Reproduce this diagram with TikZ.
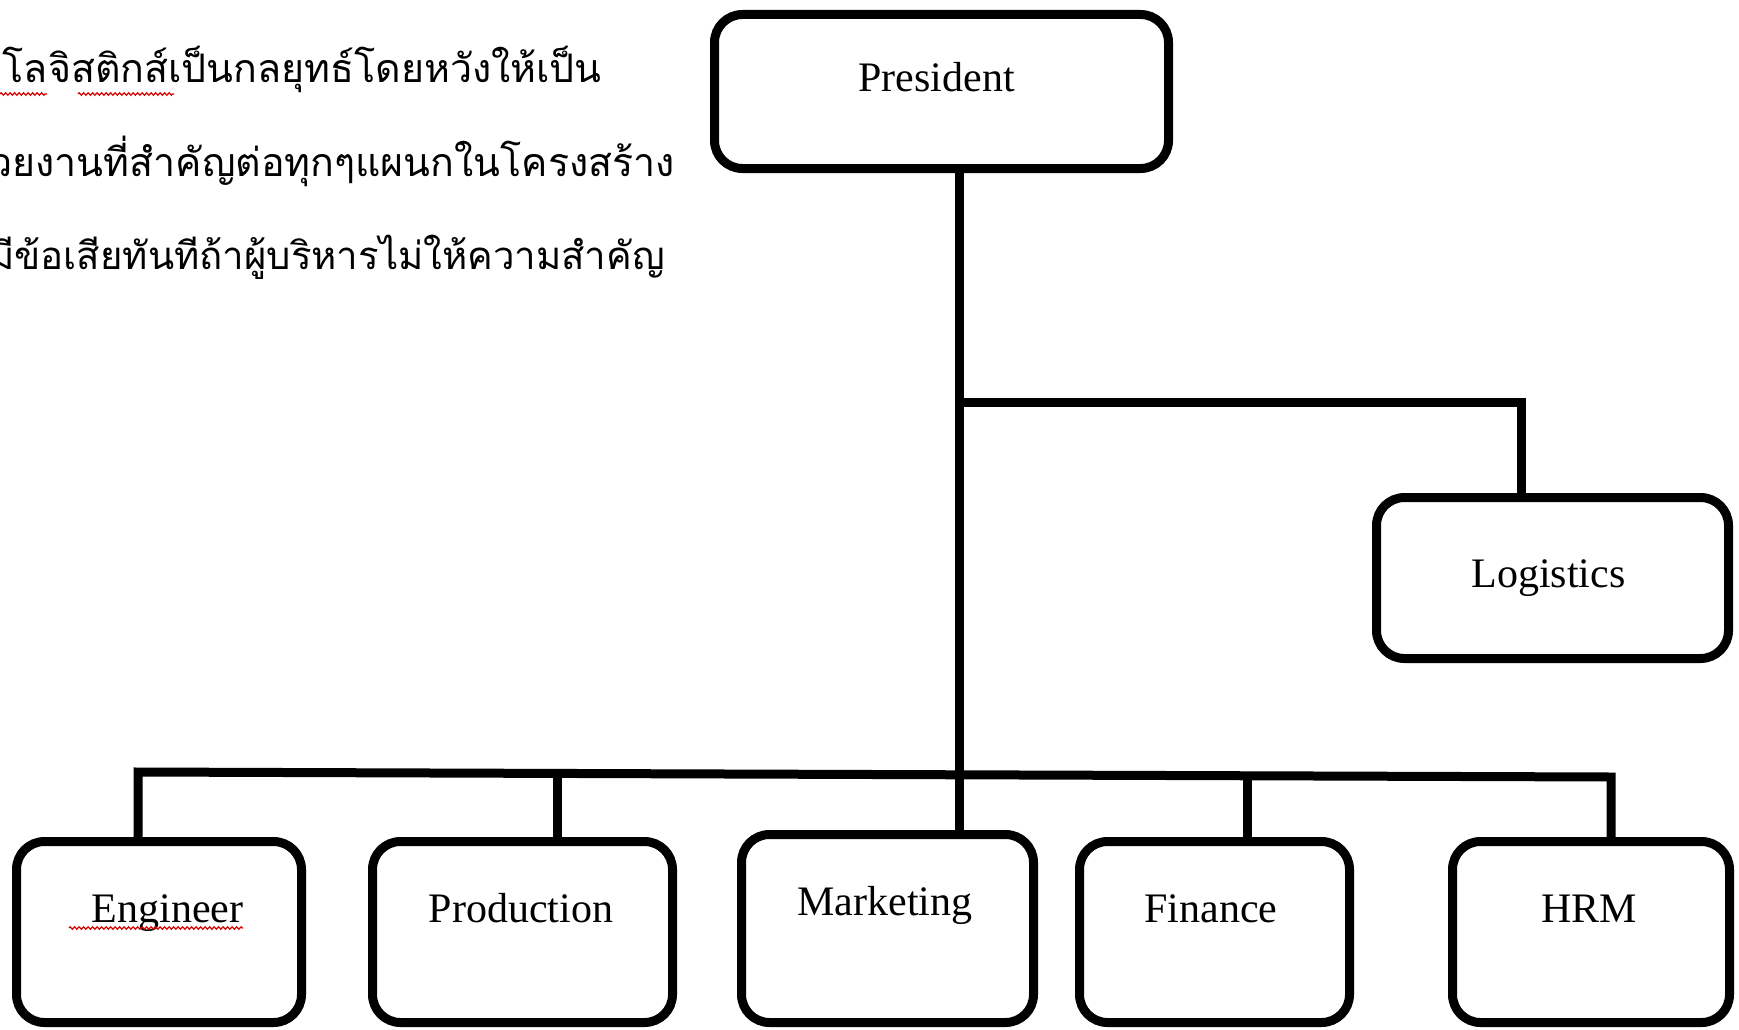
\documentclass[tikz,border=0pt]{standalone}
\usepackage{fontspec}
\setmainfont{Liberation Serif}
\newfontfamily\thaifont[Script=Thai]{Loma}
\usetikzlibrary{decorations.pathmorphing}
\newlength\thw
\newcommand{\boxlbl}[3]{\raisebox{#2}[0pt][0pt]{\makebox[0pt]{\hspace*{#1}#3}}}
\tikzset{
  box/.style={draw=black, line width=9pt, rounded corners=28pt, inner sep=0pt, outer sep=0pt,
    font=\fontsize{42}{50}\selectfont},
  conn/.style={draw=black, line width=9pt},
  thai/.style={anchor=base east, inner sep=0pt},
  squiggle/.style={draw=red!85!black, line width=1.3pt, decorate,
    decoration={zigzag, segment length=4.5pt, amplitude=1.2pt}}
}
\begin{document}
\settowidth\thw{\thaifont\fontsize{40}{48}\selectfont โลจิสติกส์เป็นกลยุทธ์โดยหวังให้เป็น}%
\pgfmathsetmacro\thsize{599/\thw*40}%
\pgfmathsetmacro\thsizeb{0.975*\thsize}%
\begin{tikzpicture}[x=1pt,y=-1pt]
\useasboundingbox (0,0) rectangle (1739,1030);
\fill[white] (0,0) rectangle (1739,1030);
\tikzset{thai/.append style={font=\thaifont\fontsize{\thsize}{\thsize}\selectfont}}
% Thai paragraph
\node[thai] (t1) at (602,83) {โลจิสติกส์เป็นกลยุทธ์โดยหวังให้เป็น};
\node[thai] (t2) at (675,176) {วยงานที่สำคัญต่อทุกๆแผนกในโครงสร้าง};
\node[thai, font=\thaifont\fontsize{\thsizeb}{\thsizeb}\selectfont] (t3) at (665,269) {มีข้อเสียทันทีถ้าผู้บริหารไม่ให้ความสำคัญ};
\draw[squiggle] (0,94) -- (47,94);
\draw[squiggle] (78,94) -- (174,94);
% boxes
\node[box, minimum width=454pt, minimum height=154pt] (pres) at (941.5,91.5) {\boxlbl{-10pt}{-0.5pt}{President}};
\node[box, minimum width=352pt, minimum height=161pt] (log) at (1552.5,578) {\boxlbl{-8pt}{-9pt}{Logistics}};
\node[box, minimum width=285pt, minimum height=181pt] (eng) at (159,932) {\boxlbl{17pt}{10pt}{Engineer}};
\node[box, minimum width=300pt, minimum height=181pt] (prod) at (522.5,932) {\boxlbl{-3pt}{10pt}{Production}};
\node[box, minimum width=292pt, minimum height=188pt] (mkt) at (887.5,928.5) {\boxlbl{-5pt}{13.5pt}{Marketing}};
\node[box, minimum width=270pt, minimum height=181pt] (fin) at (1214.5,932) {\boxlbl{-7pt}{10pt}{Finance}};
\node[box, minimum width=277pt, minimum height=181pt] (hrm) at (1591,932) {\boxlbl{-4pt}{10pt}{HRM}};
\draw[squiggle] (69,928) -- (243,928);
% connectors
\coordinate (tj) at (959,402);
\coordinate (lc) at (1521,402);
\coordinate (bl) at (138,772);
\coordinate (br) at (1611,777);
\coordinate (pj) at (557.5,773.4);
\coordinate (fj) at (1247,775.8);
\draw[conn] (pres.south -| tj) -- (mkt.north -| tj);
\draw[conn] (tj) -- (lc) -- (log.north -| lc);
\draw[conn] (eng.north -| bl) -- (bl) -- (br) -- (hrm.north -| br);
\draw[conn] (pj) -- (prod.north -| pj);
\draw[conn] (fj) -- (fin.north -| fj);
\end{tikzpicture}
\end{document}
